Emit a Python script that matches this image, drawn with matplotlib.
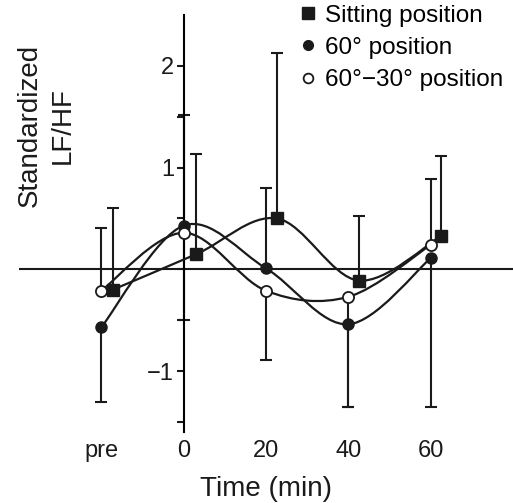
import numpy as np
import matplotlib.pyplot as plt
from matplotlib.path import Path
from matplotlib.patches import PathPatch

plt.rcParams['font.family'] = ['Liberation Sans', 'DejaVu Sans']

# time points (pre is drawn at -20 min)
tick_pos = [-20, 0, 20, 40, 60]
tick_labels = ['pre', '0', '20', '40', '60']

# sitting position is drawn a little to the right
x_sit = np.array([-17.2, 3.1, 22.7, 42.5, 62.6])
x_circ = np.array([-20, 0, 20, 40, 60])

y_sit = np.array([-0.20, 0.15, 0.50, -0.11, 0.33])
y_60 = np.array([-0.57, 0.43, 0.01, -0.54, 0.11])
y_6030 = np.array([-0.21, 0.36, -0.21, -0.27, 0.24])

# end of the (one sided) error bar for each point
err_sit = np.array([0.60, 1.13, 2.13, 0.52, 1.11])
err_60 = np.array([-1.30, 1.52, 0.80, -1.35, -1.35])
err_6030 = np.array([0.41, -0.50, -0.89, -1.35, 0.89])


def smooth_path(x, y):
    # catmull-rom style smoothing drawn as bezier segments
    pts = np.column_stack([x, y])
    ext = np.vstack([pts[0], pts, pts[-1]])
    verts = [pts[0]]
    codes = [Path.MOVETO]
    for i in range(len(pts) - 1):
        p0, p1, p2, p3 = ext[i], ext[i + 1], ext[i + 2], ext[i + 3]
        verts += [p1 + (p2 - p0) / 6, p2 - (p3 - p1) / 6, p2]
        codes += [Path.CURVE4] * 3
    return Path(verts, codes)


fig = plt.figure(figsize=(5.13, 5.03), dpi=100)
ax = fig.add_axes([0.037, 0.141, 0.963, 0.829])
ax.set_xlim(-40, 80)
ax.set_ylim(-1.6, 2.5)

for s in ['top', 'right', 'bottom']:
    ax.spines[s].set_visible(False)
ax.spines['left'].set_position(('data', 0))
ax.spines['left'].set_linewidth(1.5)
ax.axhline(0, color='#1a1a1a', lw=1.5, zorder=1)

# error bars
for xs, ys, es in [(x_sit, y_sit, err_sit), (x_circ, y_60, err_60), (x_circ, y_6030, err_6030)]:
    ax.vlines(xs, ys, es, color='#1a1a1a', lw=1.5, zorder=2)
    ax.plot(xs, es, ls='none', marker='_', ms=8, mew=1.5, color='#1a1a1a', zorder=2)

# smoothed lines
for xs, ys in [(x_sit, y_sit), (x_circ, y_60), (x_circ, y_6030)]:
    ax.add_patch(PathPatch(smooth_path(xs, ys), fc='none', ec='#1a1a1a', lw=1.6, zorder=3))

ax.plot(x_sit, y_sit, ls='none', marker='s', ms=8.5, color='#1a1a1a', zorder=4)
ax.plot(x_circ, y_60, ls='none', marker='o', ms=8, color='#1a1a1a', zorder=4)
ax.plot(x_circ, y_6030, ls='none', marker='o', ms=8, mfc='white', mec='#1a1a1a', mew=1.3, zorder=5)

ax.set_xticks(tick_pos, tick_labels)
ax.tick_params(axis='x', length=0, pad=6, labelsize=17, colors='#1a1a1a')
ax.set_yticks([-1, 0, 1, 2], ['\u22121', '', '1', '2'])
ax.set_yticks([-1.5, -0.5, 0.5, 1.5], minor=True)
ax.tick_params(axis='y', which='both', direction='out', length=5, width=1.5, pad=2,
               labelsize=17, colors='#1a1a1a')
ax.set_xlabel('Time (min)', fontsize=20, labelpad=10, color='#1a1a1a')

fig.text(0.09, 0.75, 'Standardized\nLF/HF', rotation=90, ha='center', va='center',
         fontsize=20, linespacing=1.35, color='#1a1a1a')

h_sit, = ax.plot([], [], ls='none', marker='s', ms=8, color='#1a1a1a')
h_60, = ax.plot([], [], ls='none', marker='o', ms=7, color='#1a1a1a')
h_6030, = ax.plot([], [], ls='none', marker='o', ms=7, mfc='white', mec='#1a1a1a', mew=1.3)
fig.legend([h_sit, h_60, h_6030], ['Sitting position', '60\u00b0 position', '60\u00b0\u221230\u00b0 position'],
           loc='upper left', bbox_to_anchor=(0.565, 1.01), frameon=False, fontsize=17.5,
           handlelength=0.7, handletextpad=0.35, labelspacing=0.42, borderaxespad=0)

fig.savefig('out.png', dpi=100)
